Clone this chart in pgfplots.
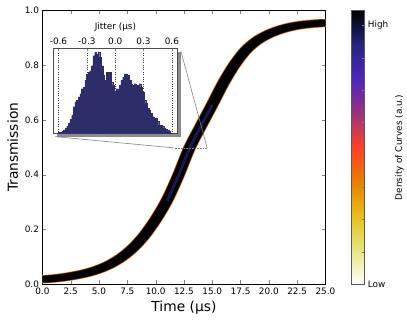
\documentclass[border=0pt]{standalone}
\usepackage{pgfplots}
\pgfplotsset{compat=1.18}
\usepackage{pgfplotstable}
\usepackage{fontspec}
\setmainfont{DejaVu Sans}
\usetikzlibrary{shadows}

\definecolor{bandyel}{RGB}{242,200,60}
\definecolor{bandred}{RGB}{200,64,32}
\definecolor{bandpur}{RGB}{80,24,80}
\definecolor{bandblue}{RGB}{60,40,160}
\definecolor{histfill}{RGB}{45,45,105}

% transmission vs time (centre of the curve bundle)
\pgfplotstableread{
t T
0 0.018
1 0.021
2 0.026
3 0.033
4 0.042
5 0.055
6 0.073
7 0.098
8 0.132
9 0.177
10 0.235
11 0.305
12 0.395
13 0.497
14 0.577
15 0.655
16 0.735
17 0.803
18 0.856
19 0.891
20 0.914
21 0.930
22 0.941
23 0.948
24 0.952
25 0.955
}\curve

% jitter histogram
\pgfplotstableread{
x h
-0.609 0.8
-0.592 1.5
-0.574 2.0
-0.557 2.7
-0.539 4.5
-0.522 6.6
-0.505 9.0
-0.487 12.4
-0.470 17.0
-0.452 22.0
-0.435 31.7
-0.418 37.5
-0.400 39.4
-0.383 43.2
-0.365 47.1
-0.348 52.9
-0.331 54.8
-0.313 62.5
-0.296 70.3
-0.278 72.2
-0.261 74.1
-0.244 79.9
-0.226 91.5
-0.209 95.4
-0.191 93.4
-0.174 96.1
-0.157 89.6
-0.139 79.9
-0.122 68.3
-0.104 62.5
-0.087 72.2
-0.070 68.3
-0.052 72.2
-0.035 60.6
-0.017 56.8
0.000 49.0
0.017 52.9
0.035 50.9
0.052 56.8
0.070 62.5
0.087 66.4
0.104 70.3
0.122 70.3
0.139 68.3
0.157 62.5
0.174 58.7
0.191 56.8
0.209 58.7
0.226 54.8
0.244 56.8
0.261 58.7
0.278 54.8
0.296 49.0
0.313 39.4
0.331 35.5
0.348 29.7
0.365 27.8
0.383 23.9
0.400 20.1
0.418 16.2
0.435 18.1
0.452 14.3
0.470 10.4
0.487 9.7
0.505 8.5
0.522 6.6
0.539 5.8
0.557 4.6
0.574 2.7
0.592 0.8
}\jitter

\begin{document}
\begin{tikzpicture}
\begin{axis}[
name=main,
width=287pt, height=277.5pt, scale only axis,
xmin=0, xmax=25, ymin=0, ymax=1,
xtick={0,2.5,5,7.5,10,12.5,15,17.5,20,22.5,25},
ytick={0,0.2,0.4,0.6,0.8,1},
tick align=inside, major tick length=4pt,
xticklabel style={/pgf/number format/.cd, fixed, fixed zerofill, precision=1},
yticklabel style={/pgf/number format/.cd, fixed, fixed zerofill, precision=1},
/pgf/number format/assume math mode=true,
tick label style={font=\fontsize{9}{10}\selectfont},
label style={font=\fontsize{14}{16}\selectfont},
xlabel={Time (µs)},
ylabel={Transmission},
axis line style={line width=0.8pt},
colorbar,
colormap={cmr}{rgb255=(255,255,255) rgb255=(230,230,128) rgb255=(230,191,26)
  rgb255=(230,128,0) rgb255=(255,64,38) rgb255=(153,51,128) rgb255=(77,38,191)
  rgb255=(38,38,128) rgb255=(0,0,0)},
point meta min=0, point meta max=8.46,
colorbar style={
  at={(parent axis.north east)}, anchor=north west, xshift=18pt,
  width=13pt,
  ytick={0,1,2,3,4,5,6,7,8},
  yticklabels={Low,,,,,,,,High},
  tick align=inside, major tick length=3pt,
  ytick pos=right,
  yticklabel style={font=\fontsize{9}{10}\selectfont},
  ylabel={Density of Curves (a.u.)},
  ylabel style={font=\fontsize{9}{10}\selectfont},
  axis line style={gray!70!black},
},
]
\addplot[bandyel, line width=8.6pt, no marks, smooth] table[x expr=\thisrow{t}-0.22, y=T] {\curve};
\addplot[bandyel, line width=8.6pt, no marks, smooth] table[x expr=\thisrow{t}+0.18, y=T] {\curve};
\addplot[bandred, line width=7.6pt, no marks, smooth] table[x expr=\thisrow{t}-0.22, y=T] {\curve};
\addplot[bandred, line width=7.6pt, no marks, smooth] table[x expr=\thisrow{t}+0.18, y=T] {\curve};
\addplot[bandpur, line width=7pt, no marks, smooth] table[x expr=\thisrow{t}-0.22, y=T] {\curve};
\addplot[bandpur, line width=7pt, no marks, smooth] table[x expr=\thisrow{t}+0.18, y=T] {\curve};
\addplot[black, line width=6.2pt, no marks, smooth] table[x expr=\thisrow{t}-0.22, y=T] {\curve};
\addplot[black, line width=6.2pt, no marks, smooth] table[x expr=\thisrow{t}+0.18, y=T] {\curve};
\addplot[bandblue, line width=2.8pt, opacity=0.55, no marks, smooth, restrict x to domain=11:15] table[x=t, y=T] {\curve};
\coordinate (insetpos) at (axis cs:0.96,0.55);
\coordinate (zl) at (axis cs:11.67,0.498);
\coordinate (zr) at (axis cs:14.55,0.498);
\end{axis}

\begin{axis}[
name=inset,
at={(insetpos)}, anchor=south west,
width=126pt, height=86.4pt, scale only axis,
xmin=-0.655, xmax=0.66, ymin=0, ymax=100,
ytick=\empty,
xtick={-0.6,-0.3,0,0.3,0.6},
xtick pos=right, xticklabel pos=right,
tick align=inside, major tick length=3pt,
xticklabel style={/pgf/number format/.cd, fixed, fixed zerofill, precision=1},
/pgf/number format/assume math mode=true,
tick label style={font=\fontsize{9}{10}\selectfont},
xlabel={Jitter (µs)},
xlabel style={font=\fontsize{9}{10}\selectfont},
xmajorgrids, grid style={dotted, black!80, line width=0.4pt},
axis line style={gray!60!black, line width=0.8pt},
axis background/.style={fill=white, drop shadow={shadow xshift=4pt, shadow yshift=-3.5pt, fill=gray!90, opacity=1}},
]
\addplot[ybar, bar width=0.0178, fill=histfill, draw=histfill, line width=0.1pt] table[x=x, y=h] {\jitter};
\end{axis}

\draw[gray, line width=0.6pt] ([xshift=2pt,yshift=-3pt]inset.south west) -- (zl);
\draw[gray, line width=0.6pt] ([xshift=3.5pt,yshift=-3pt]inset.north east) -- (zr);
\draw[gray, densely dotted, line width=0.6pt] (zl) -- (zr);

\path ([xshift=-43pt,yshift=-37.8pt]main.south west) rectangle ([xshift=77pt,yshift=10.7pt]main.north east);
\end{tikzpicture}
\end{document}
